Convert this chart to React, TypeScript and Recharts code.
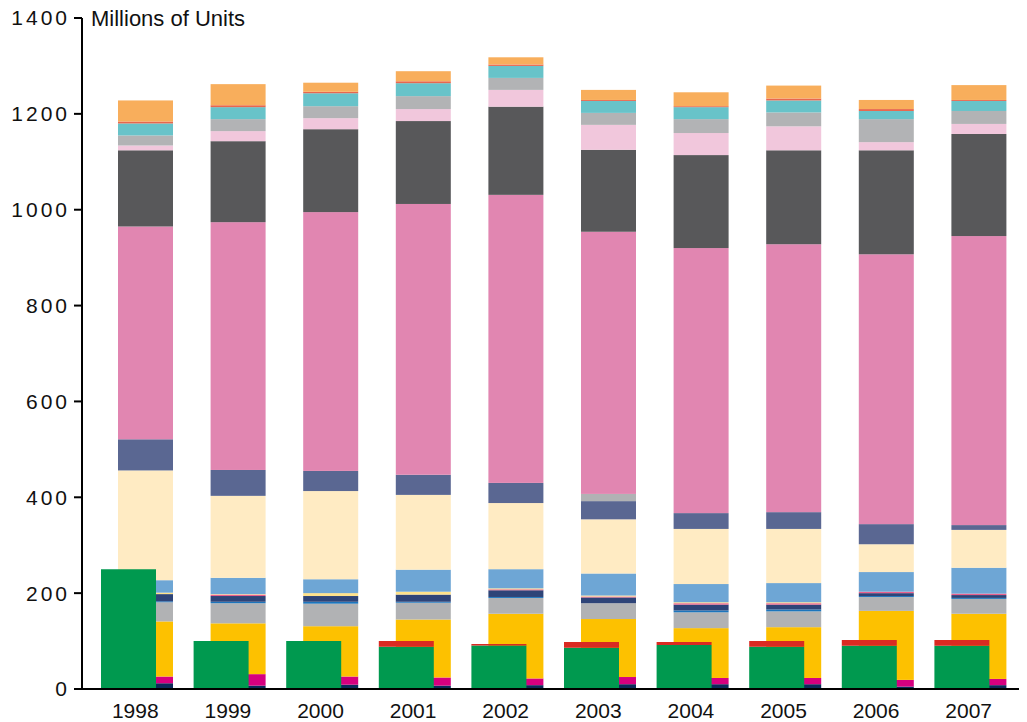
import { BarChart, Bar, XAxis, YAxis } from 'recharts';

const years = ['1998', '1999', '2000', '2001', '2002', '2003', '2004', '2005', '2006', '2007'];
const yTicks = [0, 200, 400, 600, 800, 1000, 1200, 1400];

// stacked column, bottom to top
const navy = [12, 7, 9, 7, 8, 10, 10, 10, 5, 8];
const magenta = [14, 24, 17, 17, 14, 15, 13, 13, 14, 13];
const gold = [115, 106, 105, 121, 135, 121, 104, 106, 144, 136];
const grayLow = [40, 42, 47, 35, 33, 33, 33, 33, 29, 31];
const blueThin = [2, 3, 4, 2, 2, 0, 4, 4, 2, 2];
const navySlate = [15, 12, 12, 15, 14, 12, 12, 10, 6, 6];
const pinkThin = [0, 3, 0, 0, 2, 2, 3, 3, 3, 3];
const paleYellow = [3, 1, 6, 6, 2, 2, 2, 2, 0, 0];
const lightBlue = [26, 34, 29, 46, 40, 46, 38, 40, 41, 54];
const cream = [229, 171, 184, 156, 138, 113, 115, 113, 58, 79];
const slate = [65, 54, 42, 42, 42, 38, 33, 35, 42, 10];
const grayMid = [0, 0, 0, 0, 0, 15, 0, 0, 0, 0];
const pink = [444, 517, 540, 565, 601, 547, 553, 559, 563, 603];
const darkGray = [159, 169, 173, 173, 184, 171, 194, 196, 217, 213];
const lightPink = [10, 21, 23, 25, 35, 52, 46, 50, 17, 21];
const grayHigh = [21, 25, 25, 27, 25, 25, 29, 29, 48, 27];
const teal = [25, 25, 27, 27, 25, 25, 25, 25, 17, 21];
const coral = [4, 4, 3, 4, 3, 2, 2, 4, 4, 2];
const orange = [44, 44, 19, 21, 15, 21, 29, 27, 19, 31];

// front column
const green = [250, 100, 100, 88, 91, 86, 92, 88, 90, 90];
const red = [0, 0, 0, 12, 3, 12, 6, 12, 12, 12];

const stackSeries = [
  { key: 'navy', values: navy, color: '#0b2a5a' },
  { key: 'magenta', values: magenta, color: '#d6007f' },
  { key: 'gold', values: gold, color: '#fdc100' },
  { key: 'grayLow', values: grayLow, color: '#b1b2b4' },
  { key: 'blueThin', values: blueThin, color: '#1c75bc' },
  { key: 'navySlate', values: navySlate, color: '#2e4478' },
  { key: 'pinkThin', values: pinkThin, color: '#e9608c' },
  { key: 'paleYellow', values: paleYellow, color: '#ffe28a' },
  { key: 'lightBlue', values: lightBlue, color: '#6ea6d5' },
  { key: 'cream', values: cream, color: '#ffebc3' },
  { key: 'slate', values: slate, color: '#5a6792' },
  { key: 'grayMid', values: grayMid, color: '#b1b2b4' },
  { key: 'pink', values: pink, color: '#e186b1' },
  { key: 'darkGray', values: darkGray, color: '#58585a' },
  { key: 'lightPink', values: lightPink, color: '#f1c7dc' },
  { key: 'grayHigh', values: grayHigh, color: '#b2b3b5' },
  { key: 'teal', values: teal, color: '#68c3c9' },
  { key: 'coral', values: coral, color: '#e8674e' },
  { key: 'orange', values: orange, color: '#f8ae5c' },
];

const frontSeries = [
  { key: 'green', values: green, color: '#00994f' },
  { key: 'red', values: red, color: '#da2a22' },
];

const data = years.map((year, i) => {
  const row: Record<string, string | number> = { year };
  [...stackSeries, ...frontSeries].forEach((s) => {
    row[s.key] = s.values[i];
  });
  return row;
});

// the stacked column sits a little to the right of the front column
const shiftRight = (props: any) => (
  <rect x={props.x + 17} y={props.y} width={props.width} height={props.height} fill={props.fill} />
);

const font = '"Liberation Sans", Arial, sans-serif';

export default function App() {
  return (
    <div style={{ position: 'absolute', left: 0, top: 0, width: 1027, height: 722, background: '#fff' }}>
      <div
        style={{
          position: 'absolute',
          left: 91,
          top: 8,
          fontFamily: font,
          fontSize: 22,
          lineHeight: '22px',
          color: '#111',
        }}
      >
        Millions of Units
      </div>
      <BarChart
        width={1027}
        height={722}
        data={data}
        margin={{ top: 18, right: 8, bottom: 0, left: 0 }}
        barSize={55}
      >
        <XAxis
          xAxisId="main"
          dataKey="year"
          padding={{ left: 0, right: 11 }}
          height={33}
          tickLine={false}
          tickSize={8}
          tickMargin={6}
          axisLine={{ stroke: '#000', strokeWidth: 2 }}
          tick={{ fill: '#111', fontSize: 21, fontFamily: font, dx: 7 }}
        />
        <XAxis
          xAxisId="front"
          dataKey="year"
          orientation="top"
          padding={{ left: 0, right: 11 }}
          hide
        />
        <YAxis
          width={82}
          domain={[0, 1400]}
          ticks={yTicks}
          interval={0}
          tickSize={8}
          tickMargin={4}
          axisLine={{ stroke: '#000', strokeWidth: 2 }}
          tickLine={{ stroke: '#000', strokeWidth: 2 }}
          tick={{ fill: '#111', fontSize: 21, fontFamily: font, letterSpacing: 3 }}
        />
        {stackSeries.map((s) => (
          <Bar
            key={s.key}
            xAxisId="main"
            dataKey={s.key}
            stackId="stack"
            fill={s.color}
            shape={shiftRight}
            isAnimationActive={false}
          />
        ))}
        {frontSeries.map((s) => (
          <Bar
            key={s.key}
            xAxisId="front"
            dataKey={s.key}
            stackId="front"
            fill={s.color}
            isAnimationActive={false}
          />
        ))}
      </BarChart>
    </div>
  );
}
